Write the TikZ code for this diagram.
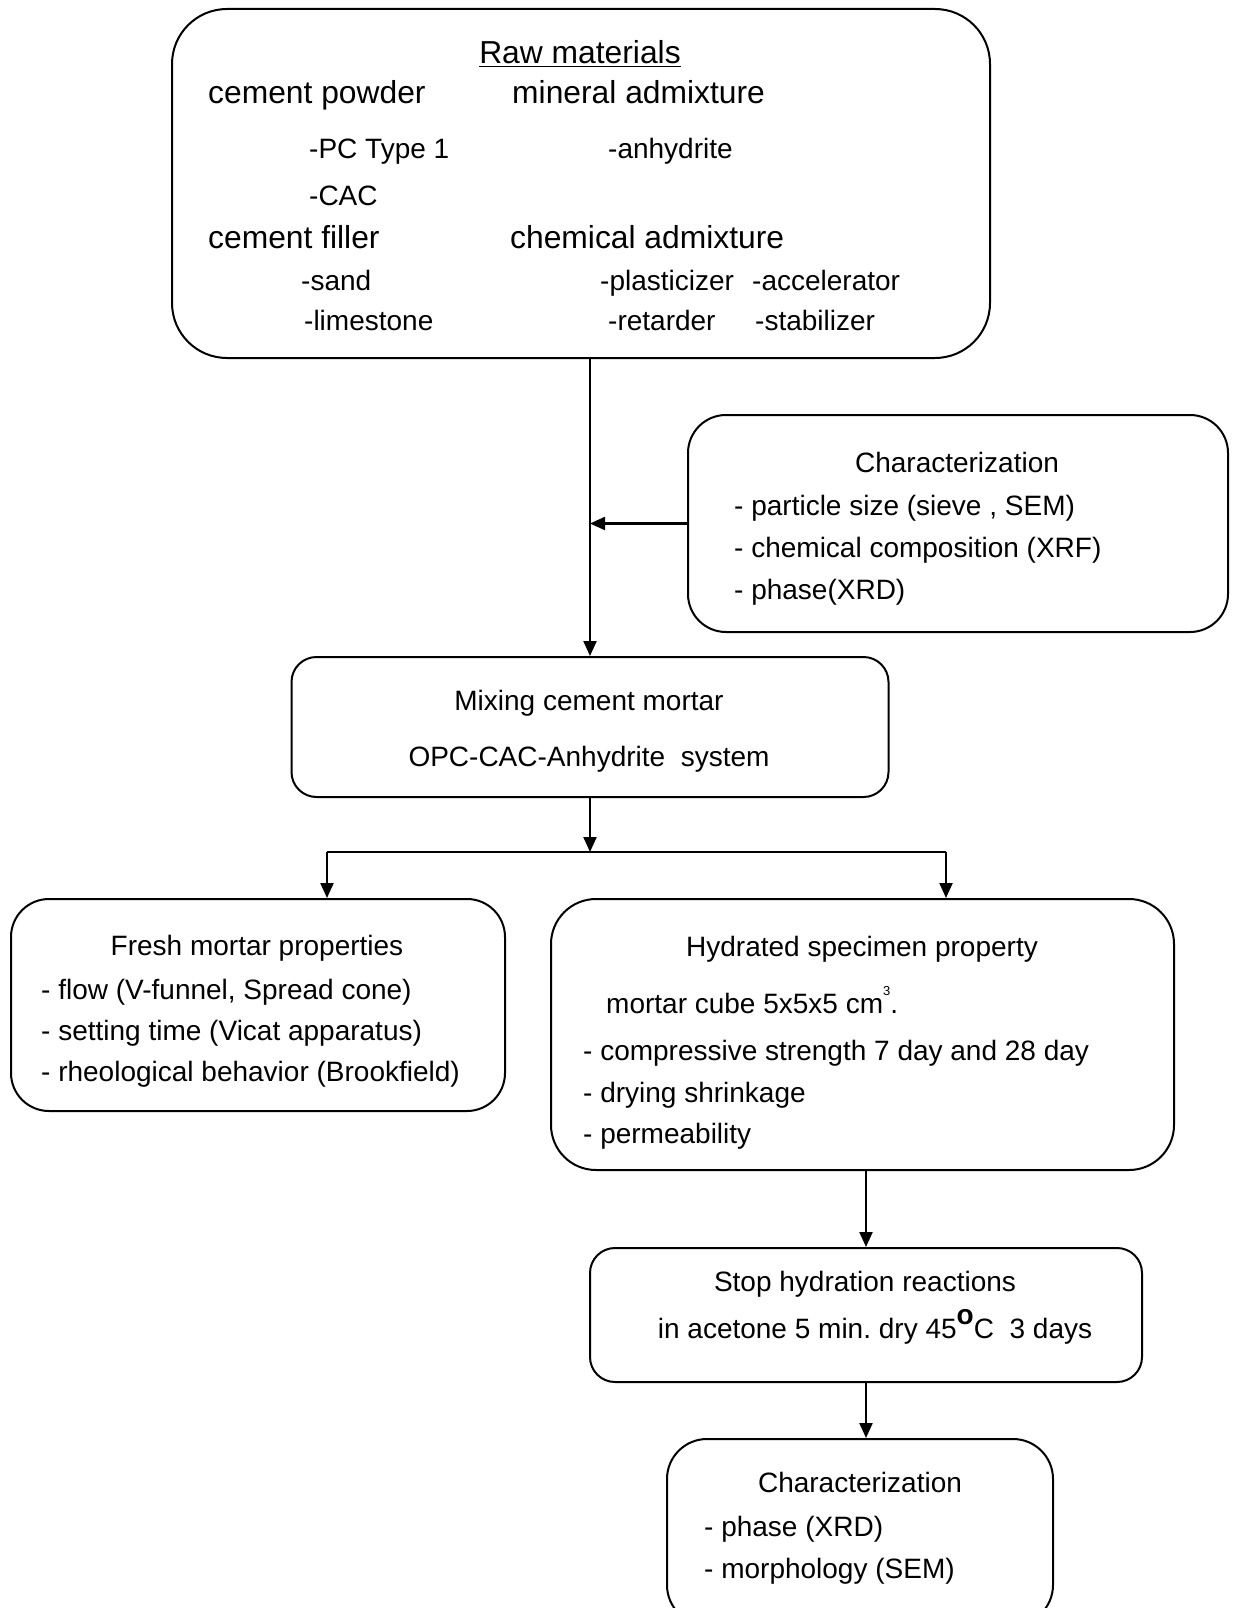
\documentclass[tikz,border=0pt]{standalone}
\usepackage{fontspec}
\setmainfont{Liberation Sans}
\usetikzlibrary{arrows.meta}
\frenchspacing
\begin{document}
\begin{tikzpicture}[x=1pt,y=-1pt,
  box/.style={draw, line width=2pt, rounded corners=#1, inner sep=0pt},
  box/.default=30pt,
  txt/.style={inner sep=0pt, anchor=base west, font=\fontsize{28}{32}\selectfont},
  ctxt/.style={inner sep=0pt, anchor=base, font=\fontsize{28}{32}\selectfont},
  head/.style={inner sep=0pt, anchor=base west, font=\fontsize{31.8}{36}\selectfont},
  arr/.style={line width=2.2pt, -{Triangle[length=15pt,width=13pt]}},
  ln/.style={line width=2.2pt}
]
\useasboundingbox (0,0) rectangle (1234,1608);

% boxes
\node[box=55pt, minimum width=818pt, minimum height=349pt] (raw) at (581,183.5) {};
\node[box=38pt, minimum width=540pt, minimum height=217pt] (char1) at (958,523.5) {};
\node[box=25pt, minimum width=597pt, minimum height=140pt] (mix) at (590,727) {};
\node[box=38pt, minimum width=494pt, minimum height=212pt] (fresh) at (258,1005) {};
\node[box=45pt, minimum width=623pt, minimum height=271pt] (hyd) at (862.5,1034.5) {};
\node[box=25pt, minimum width=552pt, minimum height=134pt] (stop) at (866,1315) {};
\node[box=40pt, minimum width=386pt, minimum height=186pt] (char2) at (860,1532) {};

% raw materials text
\node[ctxt, font=\fontsize{31.8}{36}\selectfont] (t0) at (580,64) {\underline{Raw materials}};
\node[head] (t1) at (208,104) {cement powder};
\node[head] (t2) at (512,104) {mineral admixture};
\node[txt] (t3) at (309,159) {-PC Type 1};
\node[txt] (t4) at (608,159) {-anhydrite};
\node[txt] (t5) at (309,205) {-CAC};
\node[head] (t6) at (208,248) {cement filler};
\node[head] (t7) at (510,248) {chemical admixture};
\node[txt] (t8) at (301,290) {-sand};
\node[txt] (t9) at (600,290) {-plasticizer};
\node[txt] (t10) at (752,290) {-accelerator};
\node[txt] (t11) at (304,330) {-limestone};
\node[txt] (t12) at (608,330) {-retarder};
\node[txt] (t13) at (755,330) {-stabilizer};

% characterization 1
\node[ctxt] (c0) at (957,472) {Characterization};
\node[txt] (c1) at (734,515) {- particle size (sieve , SEM)};
\node[txt] (c2) at (734,557) {- chemical composition (XRF)};
\node[txt] (c3) at (734,599) {- phase(XRD)};

% mixing
\node[ctxt] (m0) at (589,710) {Mixing cement mortar};
\node[ctxt] (m1) at (589,766) {OPC-CAC-Anhydrite\ \ system};

% fresh
\node[ctxt] (f0) at (257,955) {Fresh mortar properties};
\node[txt] (f1) at (41,999) {- flow (V-funnel, Spread cone)};
\node[txt] (f2) at (41,1040) {- setting time (Vicat apparatus)};
\node[txt] (f3) at (41,1081) {- rheological behavior (Brookfield)};

% hydrated
\node[ctxt] (h0) at (862,956) {Hydrated specimen property};
\node[txt] (h1) at (606,1013) {mortar cube 5x5x5 cm\raisebox{18pt}{\fontsize{13}{13}\selectfont 3}.};
\node[txt] (h2) at (583,1060) {- compressive strength 7 day and 28 day};
\node[txt] (h3) at (583,1102) {- drying shrinkage};
\node[txt] (h4) at (583,1143) {- permeability};

% stop
\node[ctxt] (s0) at (865,1291) {Stop hydration reactions};
\node[ctxt] (s1) at (875,1338) {in acetone 5 min. dry 45\raisebox{14pt}{\fontsize{28}{28}\selectfont\bfseries o}C\ \ 3 days};

% characterization 2
\node[ctxt] (d0) at (860,1492) {Characterization};
\node[txt] (d1) at (704,1536) {- phase (XRD)};
\node[txt] (d2) at (704,1578) {- morphology (SEM)};

% connectors
\draw[arr] (raw.south -| mix.north) -- (mix.north);
\coordinate (j1) at (mix.north |- char1.west);
\draw[arr] (char1.west) -- (j1);
\coordinate (j2) at (590,852);
\draw[arr] (mix.south) -- (j2);
\coordinate (fl) at (327,852);
\coordinate (fr) at (946,852);
\draw[ln] (fl) -- (fr);
\draw[arr] (fl) -- (fl |- fresh.north);
\draw[arr] (fr) -- (fr |- hyd.north);
\draw[arr] (hyd.south -| stop.north) -- (stop.north);
\draw[arr] (stop.south) -- (stop.south |- char2.north);
\end{tikzpicture}
\end{document}
